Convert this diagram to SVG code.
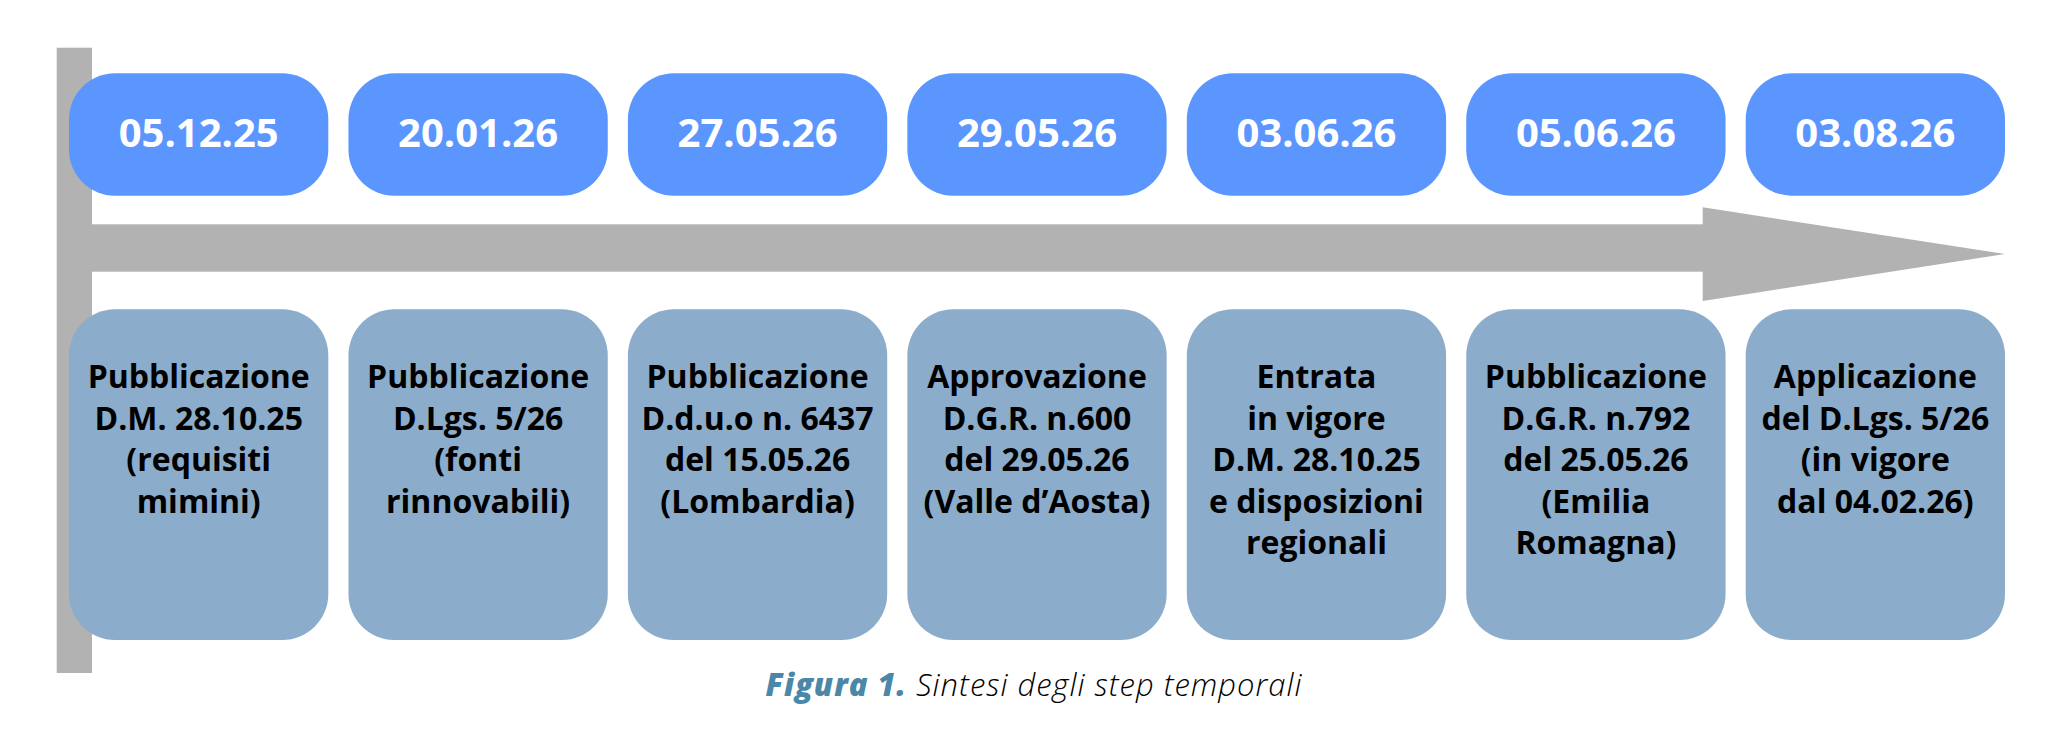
<svg xmlns="http://www.w3.org/2000/svg" width="2052" height="744" viewBox="0 0 2052 744">
<style>
.date{fill:#5A96FE}
.desc{fill:#8BACCA}
.axis{fill:#B2B2B2}
.dt{font-family:"Open Sans","Liberation Sans",sans-serif;font-weight:700;font-size:40px;fill:#FFFFFF;text-anchor:middle}
.tx{font-family:"Open Sans","Liberation Sans",sans-serif;font-weight:700;font-size:32px;fill:#000000;text-anchor:middle}
.cap{font-family:"Open Sans","Liberation Sans",sans-serif;font-size:31px;font-style:italic;letter-spacing:1px}
</style>
<rect width="2052" height="744" fill="#FFFFFF"/>
<g id="connectors">
<rect class="axis" x="56.7" y="47.7" width="35.3" height="625.3"/>
<rect class="axis" x="92" y="224.3" width="1611" height="47.4"/>
<polygon class="axis" points="1702.7,207.3 2005,254 1702.7,301"/>
</g>
<g id="step1">
<rect class="date" x="69" y="73.3" width="259.3" height="122.4" rx="46" ry="46"/>
<text class="dt" x="198.7" y="146.7">05.12.25</text>
<rect class="desc" x="69" y="309.3" width="259.3" height="330.7" rx="46" ry="46"/>
<text class="tx" x="198.7" y="388.3">Pubblicazione</text>
<text class="tx" x="198.7" y="429.8">D.M. 28.10.25</text>
<text class="tx" x="198.7" y="471.3">(requisiti</text>
<text class="tx" x="198.7" y="512.8">mimini)</text>
</g>
<g id="step2">
<rect class="date" x="348.45" y="73.3" width="259.3" height="122.4" rx="46" ry="46"/>
<text class="dt" x="478.1" y="146.7">20.01.26</text>
<rect class="desc" x="348.45" y="309.3" width="259.3" height="330.7" rx="46" ry="46"/>
<text class="tx" x="478.1" y="388.3">Pubblicazione</text>
<text class="tx" x="478.1" y="429.8">D.Lgs. 5/26</text>
<text class="tx" x="478.1" y="471.3">(fonti</text>
<text class="tx" x="478.1" y="512.8">rinnovabili)</text>
</g>
<g id="step3">
<rect class="date" x="627.9" y="73.3" width="259.3" height="122.4" rx="46" ry="46"/>
<text class="dt" x="757.55" y="146.7">27.05.26</text>
<rect class="desc" x="627.9" y="309.3" width="259.3" height="330.7" rx="46" ry="46"/>
<text class="tx" x="757.55" y="388.3">Pubblicazione</text>
<text class="tx" x="757.55" y="429.8">D.d.u.o n. 6437</text>
<text class="tx" x="757.55" y="471.3">del 15.05.26</text>
<text class="tx" x="757.55" y="512.8">(Lombardia)</text>
</g>
<g id="step4">
<rect class="date" x="907.35" y="73.3" width="259.3" height="122.4" rx="46" ry="46"/>
<text class="dt" x="1037" y="146.7">29.05.26</text>
<rect class="desc" x="907.35" y="309.3" width="259.3" height="330.7" rx="46" ry="46"/>
<text class="tx" x="1037" y="388.3">Approvazione</text>
<text class="tx" x="1037" y="429.8">D.G.R. n.600</text>
<text class="tx" x="1037" y="471.3">del 29.05.26</text>
<text class="tx" x="1037" y="512.8">(Valle d’Aosta)</text>
</g>
<g id="step5">
<rect class="date" x="1186.8" y="73.3" width="259.3" height="122.4" rx="46" ry="46"/>
<text class="dt" x="1316.45" y="146.7">03.06.26</text>
<rect class="desc" x="1186.8" y="309.3" width="259.3" height="330.7" rx="46" ry="46"/>
<text class="tx" x="1316.45" y="388.3">Entrata</text>
<text class="tx" x="1316.45" y="429.8">in vigore</text>
<text class="tx" x="1316.45" y="471.3">D.M. 28.10.25</text>
<text class="tx" x="1316.45" y="512.8">e disposizioni</text>
<text class="tx" x="1316.45" y="554.3">regionali</text>
</g>
<g id="step6">
<rect class="date" x="1466.25" y="73.3" width="259.3" height="122.4" rx="46" ry="46"/>
<text class="dt" x="1595.9" y="146.7">05.06.26</text>
<rect class="desc" x="1466.25" y="309.3" width="259.3" height="330.7" rx="46" ry="46"/>
<text class="tx" x="1595.9" y="388.3">Pubblicazione</text>
<text class="tx" x="1595.9" y="429.8">D.G.R. n.792</text>
<text class="tx" x="1595.9" y="471.3">del 25.05.26</text>
<text class="tx" x="1595.9" y="512.8">(Emilia</text>
<text class="tx" x="1595.9" y="554.3">Romagna)</text>
</g>
<g id="step7">
<rect class="date" x="1745.7" y="73.3" width="259.3" height="122.4" rx="46" ry="46"/>
<text class="dt" x="1875.35" y="146.7">03.08.26</text>
<rect class="desc" x="1745.7" y="309.3" width="259.3" height="330.7" rx="46" ry="46"/>
<text class="tx" x="1875.35" y="388.3">Applicazione</text>
<text class="tx" x="1875.35" y="429.8">del D.Lgs. 5/26</text>
<text class="tx" x="1875.35" y="471.3">(in vigore</text>
<text class="tx" x="1875.35" y="512.8">dal 04.02.26)</text>
</g>
<g id="caption">
<text class="cap" x="1034" y="696" text-anchor="middle"><tspan font-weight="800" fill="#4A87A8">Figura 1.</tspan><tspan font-weight="300" fill="#000000"> Sintesi degli step temporali</tspan></text>
</g>
</svg>
